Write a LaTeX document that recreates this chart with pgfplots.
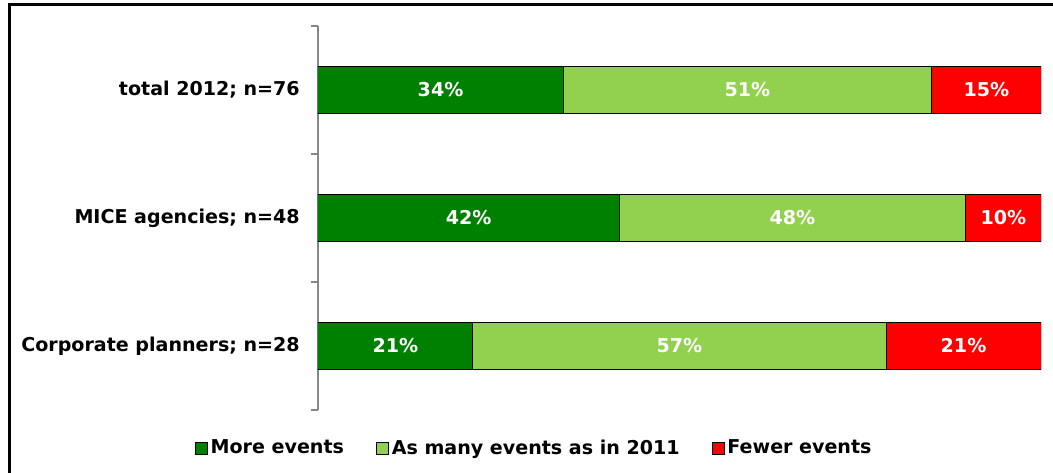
\documentclass[border=0pt]{standalone}
\usepackage{pgfplots}
\usepackage{pgfplotstable}
\pgfplotsset{compat=1.18}
\usepackage{fontspec}
\setmainfont{DejaVu Sans}
\definecolor{dkg}{HTML}{008000}
\definecolor{ltg}{HTML}{92D050}
\definecolor{rd}{HTML}{FF0000}
\definecolor{axg}{HTML}{868686}
\newcommand{\cf}{\fontsize{14.3}{17}\selectfont\bfseries}
\pgfplotstableread{
y more same fewer
0 21.43 57.14 21.43
1 41.67 47.92 10.41
2 33.9 51.0 15.1
}\data
\pgfplotstablecreatecol[create col/expr={\thisrow{more}/2}]{m1}\data
\pgfplotstablecreatecol[create col/expr={\thisrow{more}+\thisrow{same}/2}]{m2}\data
\pgfplotstablecreatecol[create col/expr={\thisrow{more}+\thisrow{same}+\thisrow{fewer}/2}]{m3}\data
\begin{document}
\begin{tikzpicture}
\useasboundingbox (0pt,0pt) rectangle (789.75pt,354pt);
\draw[line width=2.25pt] (6.75pt,-2pt) -- (6.75pt,350.25pt) -- (792pt,350.25pt);
\begin{axis}[
  at={(238.5pt,46.5pt)}, anchor=south west,
  scale only axis, width=542.25pt, height=288pt,
  xbar stacked, bar width=35.25pt,
  xmin=0, xmax=100, ymin=-0.5, ymax=2.5,
  hide x axis, axis y line*=left,
  axis line style={axg, line width=1.5pt},
  ytick={0,1,2},
  yticklabels={Corporate planners; n=28, MICE agencies; n=48, total 2012; n=76},
  major tick length=0pt,
  minor ytick={-0.5,0.5,1.5,2.5}, minor tick length=5.25pt, tick align=outside,
  minor tick style={axg, line width=1.5pt},
  yticklabel style={font=\cf, inner sep=0pt, xshift=-13.5pt},
  legend style={at={(0.2995,-0.099)}, anchor=center, draw=none, fill=none, font=\cf,
    legend columns=3, /tikz/every even column/.append style={column sep=22pt}},
  legend image code/.code={
    \path[#1, draw=none, fill opacity=0.5] (-0.5pt,-5.5pt) rectangle (8.5pt,3.5pt);
    \draw[#1, draw=black, line width=0.75pt] (0pt,-4.5pt) rectangle (9pt,4.5pt);},
]
\addplot[fill=dkg, draw=black, line width=0.75pt] table[x=more, y=y] {\data};
\addplot[fill=ltg, draw=black, line width=0.75pt] table[x=same, y=y] {\data};
\addplot[fill=rd, draw=black, line width=0.75pt] table[x=fewer, y=y] {\data};
\legend{More events, As many events as in 2011, Fewer events}
\end{axis}
\begin{axis}[
  at={(238.5pt,46.5pt)}, anchor=south west,
  scale only axis, width=542.25pt, height=288pt,
  xmin=0, xmax=100, ymin=-0.5, ymax=2.5,
  hide axis,
  point meta=explicit,
  /pgf/number format/assume math mode=true,
  nodes near coords={\pgfmathprintnumber[fixed,precision=0]{\pgfplotspointmeta}\%},
  every node near coord/.append style={anchor=center, text=white, font=\cf},
]
\addplot[draw=none, mark=none] table[x=m1, y=y, meta=more] {\data};
\addplot[draw=none, mark=none] table[x=m2, y=y, meta=same] {\data};
\addplot[draw=none, mark=none] table[x=m3, y=y, meta=fewer] {\data};
\end{axis}
\end{tikzpicture}
\end{document}
